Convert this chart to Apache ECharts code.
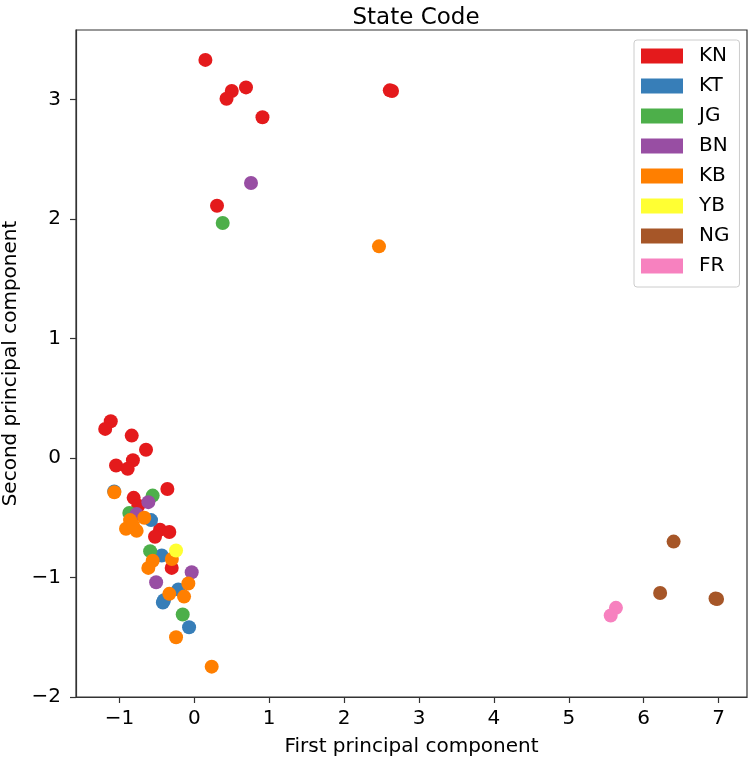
<!DOCTYPE html>
<html><head><meta charset="utf-8">
<script src="https://cdn.jsdelivr.net/npm/echarts@6/dist/echarts.min.js"></script>
<style>html,body{margin:0;padding:0;background:#fff}#c{width:750px;height:761px}</style>
</head><body><div id="c"></div>
<script>
const categories = ['KN','KT','JG','BN','KB','YB','NG','FR'];
const colors = ['#e41a1c','#377eb8','#4daf4a','#984ea3','#ff7f00','#ffff33','#a65628','#f781bf'];
const KN = [[0.148,3.33],[0.69,3.10],[0.50,3.07],[0.43,3.005],[0.91,2.85],[0.303,2.11],[2.61,3.075],[2.64,3.07],
  [-1.116,0.307],[-1.19,0.243],[-0.836,0.187],[-0.645,0.068],[-0.82,-0.02],[-1.045,-0.063],[-0.89,-0.09],
  [-0.36,-0.26],[-0.81,-0.334],[-0.748,-0.40],[-0.458,-0.60],[-0.334,-0.62],[-0.525,-0.66],[-0.302,-0.92]];
const KT = [[-1.07,-0.28],[-0.578,-0.52],[-0.435,-0.816],[-0.214,-1.10],[-0.405,-1.19],[-0.42,-1.21],[-0.07,-1.416]];
const JG = [[0.379,1.965],[-0.556,-0.315],[-0.868,-0.46],[-0.59,-0.78],[-0.155,-1.31]];
const BN = [[0.757,2.30],[-0.614,-0.37],[-0.77,-0.47],[-0.035,-0.956],[-0.51,-1.04]];
const KB = [[2.466,1.77],[-1.068,-0.287],[-0.858,-0.52],[-0.668,-0.50],[-0.912,-0.593],[-0.77,-0.61],[-0.82,-0.56],
  [-0.30,-0.845],[-0.556,-0.86],[-0.614,-0.92],[-0.08,-1.05],[-0.334,-1.137],[-0.137,-1.16],[-0.244,-1.50],[0.232,-1.746]];
const YB = [[-0.244,-0.775]];
const NG = [[6.22,-1.13],[6.96,-1.176],[6.98,-1.18],[6.40,-0.70]];
const FR = [[5.63,-1.254],[5.56,-1.318]];
const seriesData = [KN,KT,JG,BN,KB,YB,NG,FR];
const xTicks = [-1,0,1,2,3,4,5,6,7];
const yTicks = [-2,-1,0,1,2,3];

const font = 'DejaVu Sans';
const fmt = v => String(v).replace('-', '\u2212');
const chart = echarts.init(document.getElementById('c'), null, {renderer:'canvas'});
chart.setOption({
  animation: false,
  backgroundColor: '#fff',
  title: {text: 'State Code', left: 411, top: 2, textAlign: 'center',
    textStyle: {fontFamily: font, fontSize: 23, fontWeight: 'normal', color: '#000'}},
  grid: {left: 76, right: 3, top: 30, bottom: 64, show: true, borderColor: '#333', borderWidth: 1.2,
    backgroundColor: 'transparent', containLabel: false, outerBoundsMode: 'none'},
  legend: {
    orient: 'vertical', left: 634, top: 40, icon: 'rect', itemWidth: 42, itemHeight: 15, itemGap: 10,
    padding: [6, 10, 11, 7], borderColor: '#ccc', borderWidth: 1, borderRadius: 3, backgroundColor: '#fff',
    selectedMode: false,
    textStyle: {fontFamily: font, fontSize: 20, color: '#000', padding: [0, 0, 0, 11]},
    data: categories
  },
  xAxis: {
    type: 'value', min: -1.58, max: 7.38, scale: true,
    name: 'First principal component', nameLocation: 'middle', nameGap: 40,
    nameTextStyle: {fontFamily: font, fontSize: 20, color: '#000'},
    axisLine: {show: true, onZero: false, lineStyle: {color: '#333', width: 1.2}},
    axisTick: {show: true, inside: false, length: 6, customValues: xTicks, lineStyle: {color: '#333', width: 1.2}},
    axisLabel: {customValues: xTicks, formatter: fmt, fontFamily: font, fontSize: 20, color: '#000', margin: 12},
    splitLine: {show: false}
  },
  yAxis: {
    type: 'value', min: -2, max: 3.58, scale: true,
    name: 'Second principal component', nameLocation: 'middle', nameGap: 53, nameRotate: 90,
    nameTextStyle: {fontFamily: font, fontSize: 20, color: '#000'},
    axisLine: {show: true, onZero: false, lineStyle: {color: '#333', width: 1.2}},
    axisTick: {show: true, inside: false, length: 6, customValues: yTicks, lineStyle: {color: '#333', width: 1.2}},
    axisLabel: {customValues: yTicks, formatter: fmt, fontFamily: font, fontSize: 20, color: '#000', margin: 15},
    splitLine: {show: false}
  },
  series: categories.map((c, i) => ({
    name: c, type: 'scatter', data: seriesData[i], symbolSize: 14,
    itemStyle: {color: colors[i], opacity: 1}
  }))
});
</script></body></html>
